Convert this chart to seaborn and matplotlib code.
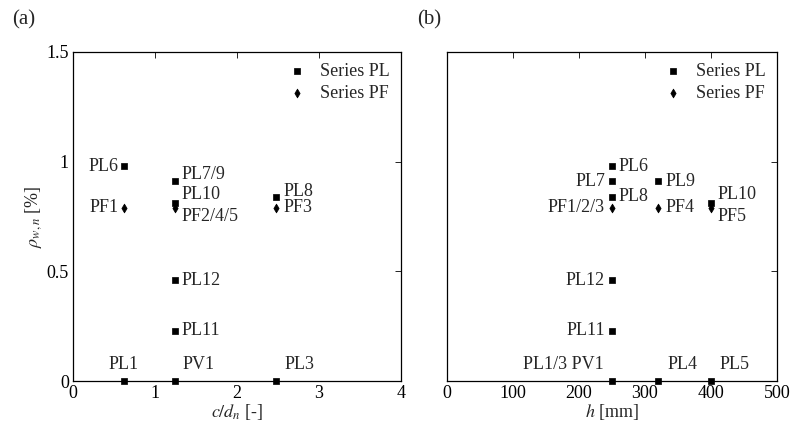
import matplotlib
matplotlib.use("Agg")
import matplotlib.pyplot as plt
import seaborn as sns
import pandas as pd

sns.set_theme(style="white")
plt.rcParams['font.family'] = ['Liberation Serif', 'DejaVu Serif']
plt.rcParams['mathtext.fontset'] = 'stix'

# Panel (a): c/dn vs rho
a_names = ["PL6", "PL7/9", "PL10", "PL8", "PL12", "PL11", "PL1", "PV1", "PL3",
           "PF1", "PF2/4/5", "PF3"]
a_x = [0.62, 1.24, 1.24, 2.48, 1.24, 1.24, 0.62, 1.24, 2.48, 0.62, 1.24, 2.48]
a_y = [0.98, 0.91, 0.81, 0.84, 0.46, 0.23, 0.0, 0.0, 0.0, 0.79, 0.79, 0.79]
a_series = ["Series PL"] * 9 + ["Series PF"] * 3

# Panel (b): h vs rho
b_names = ["PL6", "PL7", "PL8", "PL9", "PL10", "PL12", "PL11", "PL1/3 PV1", "PL4", "PL5",
           "PF1/2/3", "PF4", "PF5"]
b_x = [250, 250, 250, 320, 400, 250, 250, 250, 320, 400, 250, 320, 400]
b_y = [0.98, 0.91, 0.84, 0.91, 0.81, 0.46, 0.23, 0.0, 0.0, 0.0, 0.79, 0.79, 0.79]
b_series = ["Series PL"] * 10 + ["Series PF"] * 3

# label offsets (points) and alignment
a_off = {"PL6": (-4, 0, "right"), "PL7/9": (5, 5, "left"), "PL10": (5, 6, "left"),
         "PL8": (5, 4, "left"), "PL12": (5, 0, "left"), "PL11": (5, 0, "left"),
         "PL1": (0, 12, "center"), "PV1": (6, 12, "left"), "PL3": (6, 12, "left"),
         "PF1": (-4, 0, "right"), "PF2/4/5": (5, -6, "left"), "PF3": (5, 0, "left")}
b_off = {"PL6": (5, 0, "left"), "PL7": (-5, 0, "right"), "PL8": (5, 0, "left"),
         "PL9": (5, 0, "left"), "PL10": (5, 6, "left"), "PL12": (-5, 0, "right"),
         "PL11": (-5, 0, "right"), "PL1/3 PV1": (-6, 12, "right"), "PL4": (7, 12, "left"),
         "PL5": (6, 12, "left"), "PF1/2/3": (-5, 0, "right"), "PF4": (5, 0, "left"),
         "PF5": (5, -6, "left")}

dfa = pd.DataFrame({"x": a_x, "y": a_y, "series": a_series, "name": a_names})
dfb = pd.DataFrame({"x": b_x, "y": b_y, "series": b_series, "name": b_names})

fig = plt.figure(figsize=(7.93, 4.22), dpi=100)
axa = fig.add_axes([0.092, 0.097, 0.4137, 0.78])
axb = fig.add_axes([0.5637, 0.097, 0.4161, 0.78])

markers = {"Series PL": "s", "Series PF": "d"}
sizes = {"Series PL": 16, "Series PF": 20}
fs = 13

for ax, df, off in [(axa, dfa, a_off), (axb, dfb, b_off)]:
    for s in ["Series PL", "Series PF"]:
        sub = df[df.series == s]
        sns.scatterplot(data=sub, x="x", y="y", ax=ax, marker=markers[s], s=sizes[s],
                        color="black", edgecolor="black", linewidth=0.5, label=s, clip_on=False,
                        zorder=3)
    for _, r in df.iterrows():
        dx, dy, ha = off[r["name"]]
        ax.annotate(r["name"], (r["x"], r["y"]), xytext=(dx, dy), textcoords="offset points",
                    ha=ha, va="center", fontsize=fs)
    ax.set_ylim(0, 1.5)
    ax.set_yticks([0, 0.5, 1, 1.5])
    ax.tick_params(direction="in", top=True, right=True, length=4, width=0.6,
                   labelsize=fs, colors="black", pad=3)
    for sp in ax.spines.values():
        sp.set_linewidth(0.9)
        sp.set_color("black")
    leg = ax.legend(loc="upper right", frameon=False, fontsize=fs, handletextpad=0.3,
                    borderaxespad=0.2, labelspacing=0.3, markerscale=1.0)

axa.set_xlim(0, 4)
axa.set_xticks([0, 1, 2, 3, 4])
axa.set_yticklabels(["0", "0.5", "1", "1.5"])
axa.set_xlabel(r"$c/d_n$ [-]", fontsize=fs, labelpad=0)
axa.set_ylabel(r"$\rho_{w,n}$ [%]", fontsize=fs, labelpad=2)

axb.set_xlim(0, 500)
axb.set_xticks([0, 100, 200, 300, 400, 500])
axb.set_yticklabels([])
axb.set_xlabel(r"$h$ [mm]", fontsize=fs, labelpad=0)
axb.set_ylabel("")

fig.text(12 / 793, 1 - 20 / 422, "(a)", fontsize=15, va="center", ha="left")
fig.text(417 / 793, 1 - 20 / 422, "(b)", fontsize=15, va="center", ha="left")

fig.savefig("out.png", dpi=100, facecolor="white")
